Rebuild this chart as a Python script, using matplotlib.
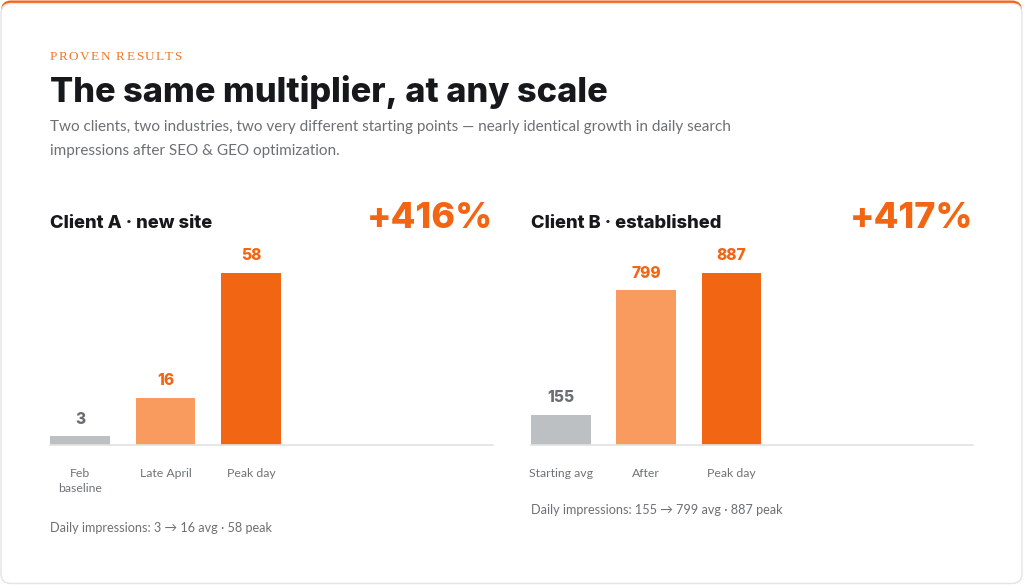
import matplotlib
matplotlib.use("Agg")
import matplotlib.pyplot as plt
from matplotlib.patches import FancyBboxPatch
import numpy as np

# ---- data ----
client_a_cats = ["Feb\nbaseline", "Late April", "Peak day"]
client_a_vals = [3, 16, 58]
client_b_cats = ["Starting avg", "After", "Peak day"]
client_b_vals = [155, 799, 887]
client_a_title = "Client A · new site"
client_b_title = "Client B · established"
client_a_growth = "+416%"
client_b_growth = "+417%"
client_a_note = "Daily impressions: 3 → 16 avg · 58 peak"
client_b_note = "Daily impressions: 155 → 799 avg · 887 peak"

W, H = 1024, 586
ORANGE = "#F26513"
LIGHT_OR = "#F99B5F"
GRAY_BAR = "#BDC0C3"
bar_colors = [GRAY_BAR, LIGHT_OR, ORANGE]
label_colors = ["#6B6F73", ORANGE, ORANGE]
TITLE_C = "#16181B"
SUB_C = "#6C7074"
TICK_C = "#6F7377"

HEAD = "Inter"
BODY = "Lato"

fig = plt.figure(figsize=(W / 100, H / 100), dpi=100)
fig.patch.set_facecolor("white")

bg = fig.add_axes([0, 0, 1, 1], zorder=-5)
bg.set_xlim(0, W)
bg.set_ylim(H, 0)
bg.axis("off")

# card
bg.add_patch(FancyBboxPatch((1, 0.5), W - 3, H - 3, boxstyle="round,pad=0,rounding_size=10",
                            facecolor=ORANGE, edgecolor="none"))
bg.add_patch(FancyBboxPatch((1, 3.5), W - 3, H - 6, boxstyle="round,pad=0,rounding_size=10",
                            facecolor="white", edgecolor="#E4E4E4", linewidth=1.0))


def px(v):
    return v * 0.72


# letter-spaced eyebrow
renderer = fig.canvas.get_renderer()
x = 50
for ch in "PROVEN RESULTS":
    t = bg.text(x, 57, ch, fontsize=px(13.2), color="#F0772A", family="Liberation Serif",
                va="center", ha="left")
    bb = t.get_window_extent(renderer=renderer)
    x += bb.width + 1.4

bg.text(50, 92, "The same multiplier, at any scale", fontsize=px(34.3), fontweight="heavy",
        family=HEAD, color=TITLE_C, va="center", ha="left")
bg.text(50, 127, "Two clients, two industries, two very different starting points — nearly identical growth in daily search",
        fontsize=px(15.3), family=BODY, color=SUB_C, va="center", ha="left")
bg.text(50, 151, "impressions after SEO & GEO optimization.",
        fontsize=px(15.3), family=BODY, color=SUB_C, va="center", ha="left")


def panel(x0, x1, cats, vals, title, growth, note, note_y):
    base_y, top_y = 445, 273
    ax = fig.add_axes([x0 / W, 1 - base_y / H, (x1 - x0) / W, (base_y - top_y) / H])
    xs = np.arange(len(vals))
    ax.bar(xs, vals, width=0.70, color=bar_colors, zorder=2)
    ax.set_ylim(0, max(vals))
    ax.set_xlim(-0.351, 4.83)
    for xi, v, c in zip(xs, vals, label_colors):
        ax.annotate(f"{v}", (xi, v), xytext=(0, 17), textcoords="offset pixels",
                    ha="center", va="center", fontsize=px(15.5), fontweight="heavy",
                    family=HEAD, color=c, annotation_clip=False)
    ax.set_xticks(xs)
    ax.set_xticklabels(cats, fontsize=px(12.3), family=BODY, color=TICK_C, linespacing=1.4)
    ax.tick_params(axis="x", length=0, pad=px(23))
    ax.set_yticks([])
    for s in ["top", "left", "right"]:
        ax.spines[s].set_visible(False)
    ax.spines["bottom"].set_color("#E2E2E2")
    ax.spines["bottom"].set_linewidth(1.2)
    ax.patch.set_alpha(0)

    bg.text(x0, 224, title, fontsize=px(18.3), fontweight="heavy", family=HEAD,
            color=TITLE_C, va="center", ha="left")
    bg.text(x1, 219, growth, fontsize=px(36), fontweight="heavy", family=HEAD,
            color=ORANGE, va="center", ha="right")
    bg.text(x0, note_y, note, fontsize=px(12.6), family=BODY, color=SUB_C,
            va="center", ha="left")


panel(50, 493, client_a_cats, client_a_vals, client_a_title, client_a_growth, client_a_note, 528)
panel(531, 973, client_b_cats, client_b_vals, client_b_title, client_b_growth, client_b_note, 510)

fig.savefig("out.png", dpi=100, facecolor="white")
